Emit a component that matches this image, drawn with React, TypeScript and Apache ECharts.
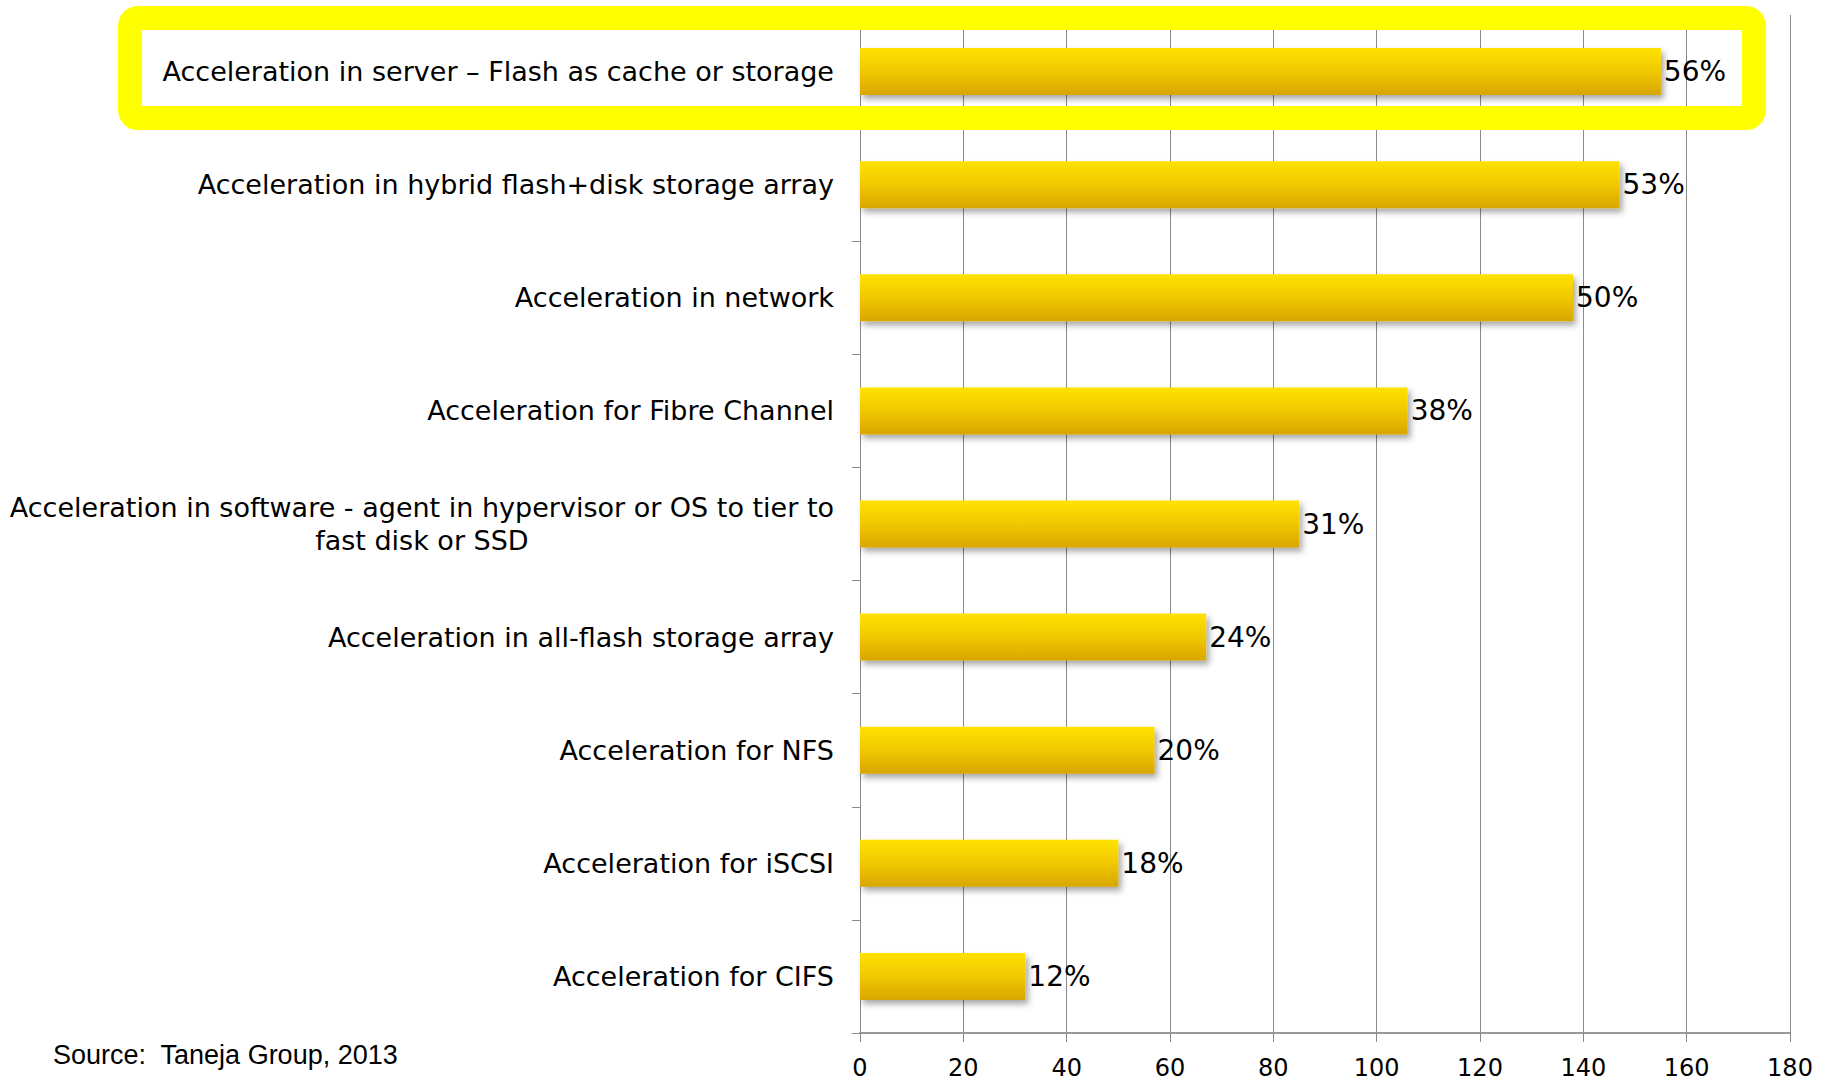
import React, { useEffect, useRef } from "react";
import * as echarts from "echarts";

const categories: string[] = [
  "Acceleration in server – Flash as cache or storage",
  "Acceleration in hybrid flash+disk storage array",
  "Acceleration in network",
  "Acceleration for Fibre Channel",
  "Acceleration in software - agent in hypervisor or OS to tier to\nfast disk or SSD",
  "Acceleration in all-flash storage array",
  "Acceleration for NFS",
  "Acceleration for iSCSI",
  "Acceleration for CIFS",
];

const counts: number[] = [155, 147, 138, 106, 85, 67, 57, 50, 32];
const percentLabels: string[] = ["56%", "53%", "50%", "38%", "31%", "24%", "20%", "18%", "12%"];

const axisMin = 0;
const axisMax = 180;
const axisInterval = 20;

const sourceText = "Source:  Taneja Group, 2013";

const FONT = "DejaVu Sans, Verdana, sans-serif";

export default function App() {
  const ref = useRef<HTMLDivElement>(null);

  useEffect(() => {
    if (!ref.current) return;
    const chart = echarts.init(ref.current, undefined, { renderer: "svg" });
    chart.setOption({
      animation: false,
      backgroundColor: "#ffffff",
      grid: { left: 860, right: 47, top: 15, bottom: 48, containLabel: false },
      xAxis: {
        type: "value",
        min: axisMin,
        max: axisMax,
        interval: axisInterval,
        axisLine: { show: true, lineStyle: { color: "#999999", width: 2 } },
        axisTick: { show: true, inside: false, length: 9, lineStyle: { color: "#888888", width: 1 } },
        axisLabel: { color: "#000000", fontSize: 24, fontFamily: FONT, margin: 23 },
        splitLine: { show: true, lineStyle: { color: "#8a8a8a", width: 1 } },
      },
      yAxis: {
        type: "category",
        inverse: true,
        data: categories,
        axisLine: { show: true, lineStyle: { color: "#8a8a8a", width: 1 } },
        axisTick: { show: true, length: 8, alignWithLabel: false, lineStyle: { color: "#8a8a8a", width: 1 } },
        splitLine: { show: false },
        axisLabel: {
          color: "#000000",
          fontSize: 27,
          fontFamily: FONT,
          margin: 26,
          lineHeight: 33,
          formatter: (v: string) =>
            v.indexOf("\n") >= 0
              ? v
                  .split("\n")
                  .map((l) => `{c|${l}}`)
                  .join("\n")
              : v,
          rich: {
            c: {
              align: "center",
              fontSize: 27,
              fontFamily: FONT,
              color: "#000000",
              lineHeight: 33,
            },
          },
        },
      },
      series: [
        {
          type: "bar",
          data: counts,
          barWidth: 47,
          itemStyle: {
            color: new echarts.graphic.LinearGradient(0, 0, 0, 1, [
              { offset: 0, color: "#FFE200" },
              { offset: 0.5, color: "#F0C800" },
              { offset: 1, color: "#D8A600" },
            ]),
            shadowColor: "rgba(0,0,0,0.35)",
            shadowBlur: 6,
            shadowOffsetX: 3,
            shadowOffsetY: 4,
          },
          label: {
            show: true,
            position: "right",
            distance: 3,
            color: "#000000",
            fontSize: 28,
            fontFamily: FONT,
            formatter: (p: any) => percentLabels[p.dataIndex],
          },
        },
      ],
      graphic: [
        {
          type: "rect",
          z: 100,
          silent: true,
          shape: { x: 130, y: 18, width: 1624, height: 100, r: 8 },
          style: { fill: "none", stroke: "#FFFF00", lineWidth: 24 },
        },
        {
          type: "text",
          z: 100,
          left: 53,
          top: 1041,
          style: {
            text: sourceText,
            fill: "#000000",
            fontSize: 27,
            fontFamily: "Liberation Sans, Arial, sans-serif",
          },
        },
      ],
    });
    return () => chart.dispose();
  }, []);

  return (
    <div
      ref={ref}
      style={{ position: "fixed", left: 0, top: 0, width: 1837, height: 1081 }}
    />
  );
}
